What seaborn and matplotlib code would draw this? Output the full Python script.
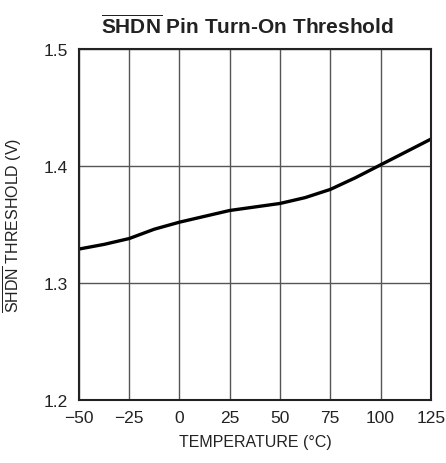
import matplotlib
matplotlib.use("Agg")
import matplotlib.pyplot as plt
from matplotlib import font_manager
import seaborn as sns
import pandas as pd

temperature = [-50, -37.5, -25, -12.5, 0, 12.5, 25, 37.5, 50, 62.5, 75, 87.5, 100, 112.5, 125]
threshold = [1.329, 1.333, 1.338, 1.346, 1.352, 1.357, 1.362, 1.365, 1.368, 1.373, 1.380, 1.390, 1.401, 1.412, 1.423]
x_ticks = [-50, -25, 0, 25, 50, 75, 100, 125]
x_tick_labels = ["\u221250", "\u221225", "0", "25", "50", "75", "100", "125"]
y_ticks = [1.2, 1.3, 1.4, 1.5]
y_tick_labels = ["1.2", "1.3", "1.4", "1.5"]

sns.set_theme(style="white")
names = {f.name for f in font_manager.fontManager.ttflist}
fam = "Liberation Sans Narrow" if "Liberation Sans Narrow" in names else "Liberation Sans"
plt.rcParams["font.family"] = [fam, "DejaVu Sans"]
plt.rcParams["mathtext.fontset"] = "custom"
plt.rcParams["mathtext.rm"] = fam
plt.rcParams["mathtext.bf"] = fam + ":bold"

df = pd.DataFrame({"temp": temperature, "thr": threshold})

fig = plt.figure(figsize=(4.46, 4.64), dpi=100)
ax = fig.add_axes([0.177, 0.136, 0.789, 0.756])
sns.lineplot(data=df, x="temp", y="thr", ax=ax, color="black", linewidth=2.4)

ax.set_xlim(-50, 125)
ax.set_ylim(1.2, 1.5)
ax.set_xticks(x_ticks)
ax.set_xticklabels(x_tick_labels)
ax.set_yticks(y_ticks)
ax.set_yticklabels(y_tick_labels)
ax.tick_params(axis="both", length=0, labelsize=12.5, colors="#222222")
ax.tick_params(axis="x", pad=7)
ax.tick_params(axis="y", pad=8)
ax.grid(True, color="#555555", linewidth=1.0)
for s in ax.spines.values():
    s.set_visible(True)
    s.set_color("#222222")
    s.set_linewidth(1.5)

ax.set_xlabel("TEMPERATURE (\u00b0C)", fontsize=11.5, color="#222222", labelpad=7)
ax.set_ylabel(r"$\overline{\mathrm{SHDN}}$ THRESHOLD (V)", fontsize=11.5, color="#222222", labelpad=14)
ax.set_title(r"$\overline{\mathbf{SHDN}}$ Pin Turn-On Threshold", fontsize=15, fontweight="bold",
             color="#222222", pad=12, x=0.478)

fig.savefig("out.png", dpi=100)
